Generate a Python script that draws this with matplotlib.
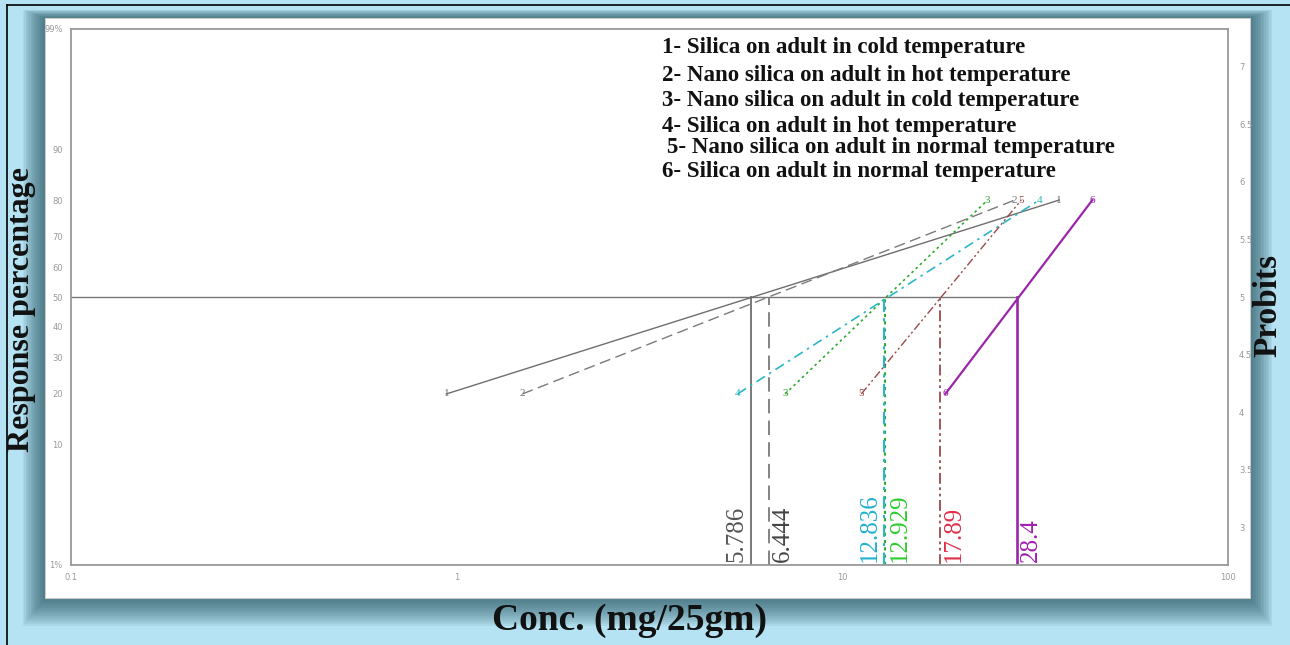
import matplotlib
matplotlib.use('Agg')
import matplotlib.pyplot as plt
from matplotlib.patches import Rectangle
from matplotlib.transforms import offset_copy
from statistics import NormalDist


def probit(pct):
    # percentage -> probit units (normal deviate + 5)
    return NormalDist().inv_cdf(pct / 100.0) + 5


# data
series_ids = ['1', '2', '3', '4', '5', '6']
legend_labels = [
    '1- Silica on adult in cold temperature',
    '2- Nano silica on adult in hot temperature',
    '3- Nano silica on adult in cold temperature',
    '4- Silica on adult in hot temperature',
    '5- Nano silica on adult in normal temperature',
    '6- Silica on adult in normal temperature',
]
lc50 = [5.786, 6.444, 12.929, 12.836, 17.89, 28.4]
conc_low = [0.94, 1.48, 7.11, 5.35, 11.2, 18.5]
conc_high = [36.5, 28.0, 23.8, 32.4, 29.1, 44.5]
resp_low = 20
resp_high = 80

pct_ticks = [1, 10, 20, 30, 40, 50, 60, 70, 80, 90, 99]
pct_labels = ['1%', '10', '20', '30', '40', '50', '60', '70', '80', '90', '99%']
probit_ticks = [3, 3.5, 4, 4.5, 5, 5.5, 6, 6.5, 7]
probit_labels = ['3', '3.5', '4', '4.5', '5', '5.5', '6', '6.5', '7']
x_ticks = [0.1, 1, 10, 100]
x_labels = ['0.1', '1', '10', '100']

# styles
line_colors = ['#6e6e6e', '#7a7a7a', '#2fa82f', '#2cb6c6', '#9a4a4a', '#9a26a8']
text_colors = ['#555555', '#444444', '#2fcc2f', '#22b0cf', '#e0304a', '#a020b0']
line_styles = ['-', (0, (8, 4)), (0, (1.5, 2)), (0, (6, 3, 1.5, 3)),
               (0, (6, 2, 1.5, 2, 1.5, 2)), '-']
line_widths = [1.0, 1.0, 1.2, 1.2, 1.0, 1.6]
text_side = ['left', 'right', 'right', 'left', 'right', 'right']

serif = ['Liberation Serif', 'DejaVu Serif']

fig = plt.figure(figsize=(12.9, 6.45), dpi=100)
fig.patch.set_facecolor('#b5e3f3')

# white panel with a soft shadow
W, H = 1290.0, 645.0
px0, py0, px1, py1 = 45, 18, 1250, 598
for k in range(14, 0, -1):
    fig.patches.append(Rectangle(((px0 - k * 1.6) / W, (H - py1 - k * 2.0) / H),
                                 (px1 - px0 + k * 3.2) / W, (py1 - py0 + k * 2.6) / H,
                                 transform=fig.transFigure, facecolor='#1e4d58',
                                 edgecolor='none', alpha=0.07, zorder=0))
fig.patches.append(Rectangle((px0 / W, (H - py1) / H), (px1 - px0) / W, (py1 - py0) / H,
                             transform=fig.transFigure, facecolor='white',
                             edgecolor='#cccccc', lw=0.8, zorder=1))
fig.lines.append(plt.Line2D([7 / W, 1], [1 - 5 / H, 1 - 5 / H], transform=fig.transFigure,
                            color='black', lw=1.2))
fig.lines.append(plt.Line2D([7 / W, 7 / W], [0, 1 - 5 / H], transform=fig.transFigure,
                            color='black', lw=1.2))

ax = fig.add_axes([71 / W, (H - 565) / H, (1228 - 71) / W, (565 - 29) / H])
ax.set_zorder(2)
ax.set_facecolor('white')
ax.set_xscale('log')
ymin, ymax = probit(1), probit(99)
ax.set_xlim(0.1, 100)
ax.set_ylim(ymin, ymax)

# 50% reference line
ax.plot([0.1, max(lc50)], [5, 5], color='#777777', lw=1.0)

for i in range(len(series_ids)):
    ylo, yhi = probit(resp_low), probit(resp_high)
    ax.plot([conc_low[i], conc_high[i]], [ylo, yhi], color=line_colors[i],
            ls=line_styles[i], lw=line_widths[i])
    ax.plot([lc50[i], lc50[i]], [ymin, 5], color=line_colors[i],
            ls=line_styles[i], lw=line_widths[i] + 0.3)
    for xv, yv in ((conc_low[i], ylo), (conc_high[i], yhi)):
        ax.text(xv, yv, series_ids[i], color=line_colors[i], fontsize=8,
                ha='center', va='center', family=serif)
    side = text_side[i]
    dx = -3 if side == 'left' else 3
    tr = offset_copy(ax.transData, fig=fig, x=dx, y=3, units='dots')
    ax.text(lc50[i], ymin, f'{lc50[i]:g}', transform=tr, rotation=90,
            ha='right' if side == 'left' else 'left', va='bottom',
            color=text_colors[i], fontsize=18, family=serif)

# legend as text block
legend_y = [0.966, 0.914, 0.866, 0.819, 0.778, 0.735]
legend_x = [0.511, 0.511, 0.511, 0.511, 0.515, 0.511]
for i, lab in enumerate(legend_labels):
    ax.text(legend_x[i], legend_y[i], lab, transform=ax.transAxes, fontsize=16.5,
            fontweight='bold', family=serif, color='#111111', va='center', ha='left')

ax.set_xticks(x_ticks)
ax.set_xticklabels(x_labels)
ax.minorticks_off()
ax.set_yticks([probit(p) for p in pct_ticks])
ax.set_yticklabels(pct_labels)
ax.tick_params(length=0, labelsize=6, labelcolor='#999999', pad=6)
for sp in ax.spines.values():
    sp.set_color('#999999')
    sp.set_linewidth(1.3)

ax2 = ax.twinx()
ax2.set_ylim(ymin, ymax)
ax2.set_yticks(probit_ticks)
ax2.set_yticklabels(probit_labels)
ax2.tick_params(length=0, labelsize=6, labelcolor='#999999', pad=8)
for sp in ax2.spines.values():
    sp.set_visible(False)

fig.text(22 / W, 1 - 310 / H, 'Response percentage', rotation=90, fontsize=23,
         fontweight='bold', family=serif, ha='center', va='center', color='#111111')
fig.text(1268 / W, 1 - 305 / H, 'Probits', rotation=90, fontsize=24,
         fontweight='bold', family=serif, ha='center', va='center', color='#111111')
fig.text(630 / W, 1 - 620 / H, 'Conc. (mg/25gm)', fontsize=27,
         fontweight='bold', family=serif, ha='center', va='center', color='#111111')

fig.savefig('out.png', dpi=100, facecolor=fig.get_facecolor())
